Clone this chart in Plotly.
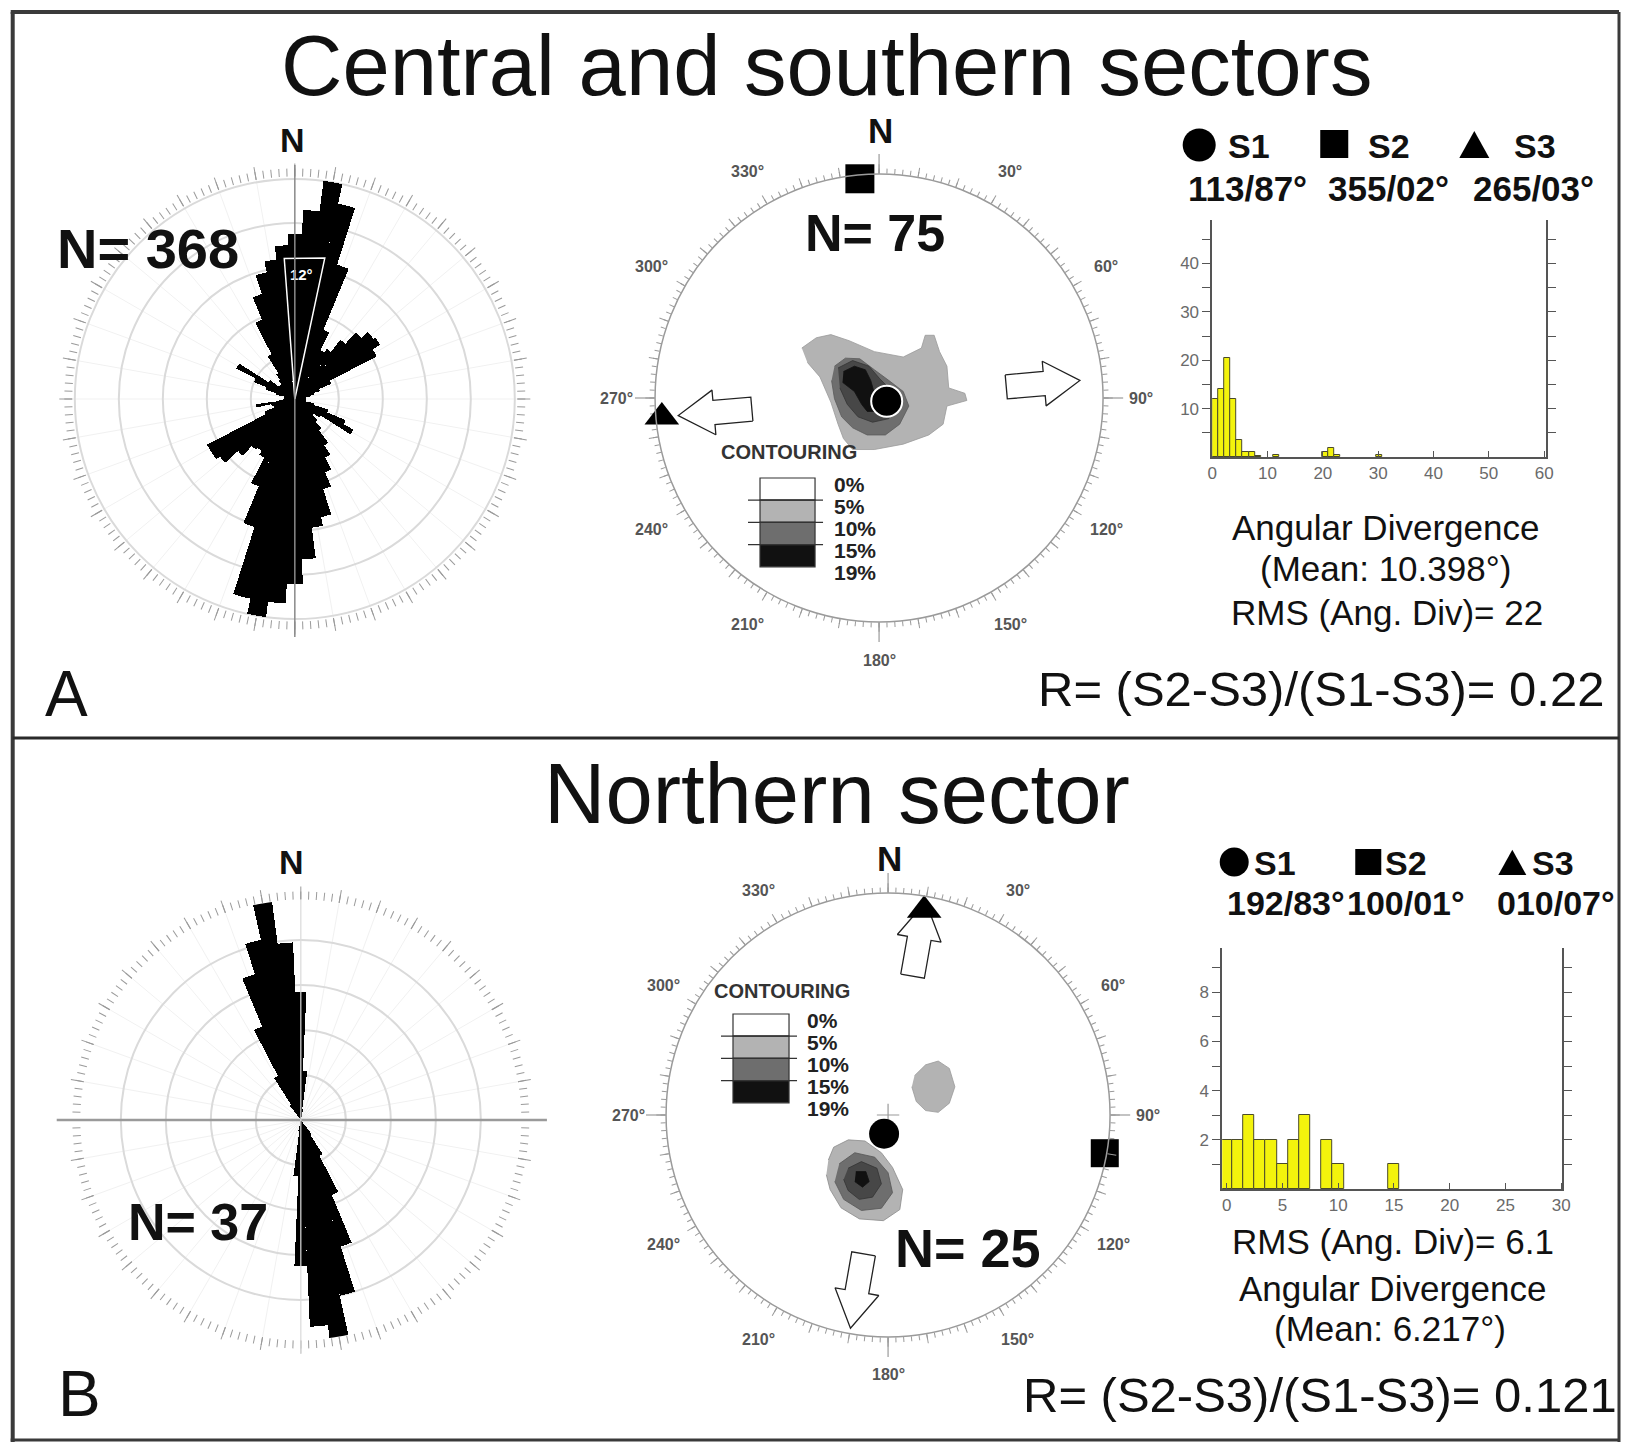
import numpy as np
import plotly.graph_objects as go

W, H = 1627, 1442
FONT = "Liberation Sans, Arial, Helvetica, sans-serif"

# ---------------- data ----------------
rose_bins = list(range(0, 360, 5))
# panel A rose (relative frequency, %)
rose_a_pct = [7.5, 8.6, 10.0, 9.1, 6.4, 3.4, 2.5, 2.7, 3.4, 4.1, 4.5, 4.6, 4.2, 1.8, 1.2, 0.9, 0.7, 0.5,
              0.5, 0.5, 0.5, 0.9, 1.6, 2.5, 3.0, 1.4, 1.1, 1.4, 1.8, 2.5, 3.0, 3.6, 4.3, 5.5, 5.9, 7.3,
              8.4, 9.3, 10.0, 9.3, 6.1, 4.3, 3.0, 2.8, 2.9, 3.5, 4.3, 4.5, 4.5, 1.5, 1.0, 1.1, 1.8, 0.7,
              0.5, 0.5, 0.5, 0.9, 1.4, 2.0, 3.0, 1.4, 0.9, 0.9, 1.1, 1.4, 2.3, 3.9, 5.0, 5.9, 6.4, 7.0]
# panel B rose
rose_b_pct = [5.7, 2.2, 0.5, 0, 0, 0, 0, 0, 0, 0, 0, 0, 0, 0, 0, 0, 0, 0,
              0, 0, 0, 0, 0, 0, 0, 0, 0, 0, 0, 0.8, 1.8, 3.6, 5.9, 8.0, 9.8, 9.2,
              6.5, 2.5, 0.5, 0, 0, 0, 0, 0, 0, 0, 0, 0, 0, 0, 0, 0, 0, 0,
              0, 0, 0, 0, 0, 0, 0, 0, 0, 0, 0, 0.8, 2.2, 4.5, 6.8, 8.2, 9.8, 7.9]
rose_sector = [-4.3, 12.0]   # the 12 deg reference sector
rose_sector_r = [6.4, 6.55]

# principal stresses (trend / plunge)
stress_names = ["S1", "S2", "S3"]
trend_a = [113, 355, 265]
plunge_a = [87, 2, 3]
trend_b = [192, 100, 10]
plunge_b = [83, 1, 7]
stress_text_a = ["113/87°", "355/02°", "265/03°"]
stress_text_b = ["192/83°", "100/01°", "010/07°"]

# density contours (projected coordinates, east / north, unit circle)
ca5_x = [-0.345, -0.280, -0.215, -0.134, -0.021, 0.108, 0.189, 0.206, 0.246, 0.270, 0.303, 0.311, 0.383,
         0.392, 0.303, 0.286, 0.222, 0.108, -0.021, -0.118, -0.159, -0.183, -0.215, -0.264, -0.320]
ca5_y = [0.223, 0.269, 0.283, 0.256, 0.207, 0.183, 0.223, 0.280, 0.280, 0.207, 0.142, 0.045, 0.021,
         -0.011, -0.036, -0.117, -0.165, -0.206, -0.230, -0.230, -0.181, -0.117, -0.019, 0.094, 0.159]
ca10_x = [-0.199, -0.150, -0.086, -0.021, 0.044, 0.108, 0.133, 0.092, 0.028, -0.053, -0.118, -0.167, -0.199, -0.212]
ca10_y = [0.142, 0.178, 0.175, 0.126, 0.078, 0.029, -0.036, -0.117, -0.165, -0.165, -0.133, -0.084, -0.003, 0.078]
ca15_x = [-0.183, -0.118, -0.045, 0.003, 0.060, 0.076, 0.044, -0.029, -0.094, -0.142, -0.175]
ca15_y = [0.134, 0.167, 0.142, 0.086, 0.029, -0.036, -0.092, -0.108, -0.084, -0.028, 0.045]
ca19_x = [-0.159, -0.110, -0.061, -0.037, -0.021, 0.011, 0.003, -0.053, -0.078, -0.110, -0.163]
ca19_y = [0.118, 0.142, 0.126, 0.078, 0.021, -0.019, -0.060, -0.060, -0.028, 0.029, 0.070]

cb5a_x = [0.119, 0.169, 0.226, 0.276, 0.301, 0.276, 0.226, 0.169, 0.127, 0.107]
cb5a_y = [0.177, 0.226, 0.243, 0.210, 0.127, 0.053, 0.012, 0.020, 0.061, 0.127]
cb5b_x = [-0.269, -0.245, -0.179, -0.104, -0.030, 0.020, 0.066, 0.053, -0.021, -0.129, -0.212, -0.261, -0.278]
cb5b_y = [-0.203, -0.145, -0.112, -0.117, -0.170, -0.236, -0.336, -0.426, -0.476, -0.468, -0.418, -0.336, -0.269]
cb10_x = [-0.22, -0.15, -0.06, 0.00, 0.02, -0.03, -0.12, -0.20, -0.24]
cb10_y = [-0.22, -0.17, -0.19, -0.26, -0.35, -0.42, -0.43, -0.38, -0.30]
cb15_x = [-0.18, -0.12, -0.05, -0.03, -0.07, -0.13, -0.18, -0.20]
cb15_y = [-0.24, -0.21, -0.24, -0.31, -0.37, -0.38, -0.34, -0.29]
cb19_x = [-0.145, -0.10, -0.085, -0.115, -0.15]
cb19_y = [-0.255, -0.255, -0.30, -0.325, -0.30]

# angular divergence histograms
hist_a_x = [0.55, 1.65, 2.75, 3.85, 4.95, 6.05, 7.15, 8.25, 11.55, 20.35, 21.45, 22.55, 30.25]
hist_a_n = [12, 14, 20.5, 12, 3.5, 1, 1, 0.3, 0.4, 1, 1.8, 0.5, 0.4]
hist_b_x = [0, 1, 2, 3, 4, 5, 6, 7, 9, 10, 15]
hist_b_n = [2, 2, 3, 2, 2, 1, 2, 3, 2, 1, 1]

contour_levels = ["0%", "5%", "10%", "15%", "19%"]
stereo_labels = [30, 60, 90, 120, 150, 180, 210, 240, 270, 300, 330]

# ---------------- geometry / style ----------------
ROSE_A = dict(cx=296, cy=399, R=222, unit=22.0)
ROSE_B = dict(cx=302, cy=1120, R=220, unit=22.5)
ST_A = dict(cx=880, cy=398, R=224)
ST_B = dict(cx=889, cy=1115, R=222)
LIGHT, MID, DARK, BLACK = "#b3b3b3", "#6e6e6e", "#474747", "#111111"
TICKC = "#9a9a9a"
# small horizontal calibration of the page placement
XS, XO = 0.9916, 6.3


def X(px):
    return min(max((px - XO) / XS, 0), W) / W


def Y(py):
    return 1 - py / H


def dom(g):
    return dict(x=[X(g["cx"] - g["R"]), X(g["cx"] + g["R"])],
                y=[Y(g["cy"] + g["R"]), Y(g["cy"] - g["R"])])


def proj_r(plunge):
    return np.sqrt(2.0) * np.sin(np.radians(90.0 - np.asarray(plunge, float)) / 2.0)


def xy_to_polar(xs, ys):
    xs = np.asarray(xs, float)
    ys = np.asarray(ys, float)
    return np.hypot(xs, ys), np.degrees(np.arctan2(xs, ys)) % 360


def arrow(trend, r0, r1, shaft_hw=0.054, head_hw=0.10, head_len=0.16):
    t = np.radians(trend)
    d = np.array([np.sin(t), np.cos(t)])
    p = np.array([np.cos(t), -np.sin(t)])
    s = [r0, r1 - head_len, r1 - head_len, r1, r1 - head_len, r1 - head_len, r0, r0]
    w = [-shaft_hw, -shaft_hw, -head_hw, 0, head_hw, shaft_hw, shaft_hw, -shaft_hw]
    pts = np.outer(s, d) + np.outer(w, p)
    return xy_to_polar(pts[:, 0], pts[:, 1])


def tick_polar(g, vals, ticklen, showline=False, bg="rgba(0,0,0,0)"):
    return dict(domain=dom(g), bgcolor=bg,
                radialaxis=dict(visible=False, range=[0, 1]),
                angularaxis=dict(rotation=90, direction="clockwise", tickmode="array", tickvals=vals,
                                 ticks="outside", ticklen=ticklen, tickcolor=TICKC, tickwidth=1,
                                 showticklabels=False, showgrid=False, showline=showline,
                                 linecolor="#9a9a9a", linewidth=1.5))


def rose_polar(g):
    return dict(domain=dom(g), bgcolor="white",
                radialaxis=dict(range=[0, g["R"] / g["unit"]], tickmode="linear", tick0=0, dtick=2,
                                showgrid=True, gridcolor="#dadada", gridwidth=1.5, showticklabels=False,
                                showline=False, ticks=""),
                angularaxis=dict(rotation=90, direction="clockwise", tickmode="array",
                                 tickvals=list(range(0, 360, 10)), ticks="outside", ticklen=13,
                                 tickcolor=TICKC, tickwidth=1, showticklabels=False, showgrid=True,
                                 gridcolor="#f1f1f1", showline=False))


fig = go.Figure()


def dummy(sub):
    fig.add_trace(go.Scatterpolar(r=[0], theta=[0], mode="markers", marker=dict(opacity=0),
                                  hoverinfo="skip", subplot=sub))


def poly(xs, ys, color, sub, line=None):
    r, th = xy_to_polar(xs, ys)
    fig.add_trace(go.Scatterpolar(r=r, theta=th, mode="lines", fill="toself", fillcolor=color,
                                  line=dict(color=line or color, width=0.8), hoverinfo="skip",
                                  subplot=sub))


syms = ["circle", "square", "triangle-up"]

# ---- rose A (polar = fine ticks, polar2 = data) ----
dummy("polar")
fig.add_trace(go.Barpolar(r=rose_a_pct, theta=rose_bins, width=5,
                          marker=dict(color="black", line=dict(width=0)), subplot="polar2", hoverinfo="skip"))
fig.add_trace(go.Scatterpolar(r=[0, rose_sector_r[0], rose_sector_r[1], 0],
                              theta=[0, rose_sector[0], rose_sector[1], 0], mode="lines",
                              line=dict(color="white", width=1.5), subplot="polar2", hoverinfo="skip"))
fig.add_trace(go.Scatterpolar(r=[5.6], theta=[3], mode="text", text=["<b>12°</b>"],
                              textfont=dict(family=FONT, size=15, color="white"),
                              subplot="polar2", hoverinfo="skip", cliponaxis=False))

# ---- stereonet A (polar3 = fine ticks, polar4 = data) ----
dummy("polar3")
sub = "polar4"
fig.add_trace(go.Scatterpolar(r=[0], theta=[0], mode="markers",
                              marker=dict(symbol="cross-thin", size=16, opacity=1,
                                          line=dict(color="#999", width=1.2)),
                              subplot=sub, hoverinfo="skip"))
poly(ca5_x, ca5_y, LIGHT, sub, "#9a9a9a")
poly(ca10_x, ca10_y, MID, sub, "#5a5a5a")
poly(ca15_x, ca15_y, DARK, sub, "#333")
poly(ca19_x, ca19_y, BLACK, sub)
for tr in (trend_a[2], (trend_a[2] + 180) % 360):
    r, th = arrow(tr, 0.57, 0.90)
    fig.add_trace(go.Scatterpolar(r=r, theta=th, mode="lines", fill="toself", fillcolor="white",
                                  line=dict(color="#222", width=1.3), subplot=sub, hoverinfo="skip"))
fig.add_trace(go.Scatterpolar(r=proj_r(plunge_a), theta=trend_a, mode="markers", cliponaxis=False,
                              marker=dict(symbol=syms, size=[31, 29, 30], color="black", opacity=1,
                                          line=dict(color=["white", "black", "black"], width=[2, 0, 0])),
                              subplot=sub, hoverinfo="skip"))

# ---- rose B (polar5 = fine ticks, polar6 = data) ----
dummy("polar5")
fig.add_trace(go.Barpolar(r=rose_b_pct, theta=rose_bins, width=5,
                          marker=dict(color="black", line=dict(width=0)), subplot="polar6", hoverinfo="skip"))

# ---- stereonet B (polar7 = fine ticks, polar8 = data) ----
dummy("polar7")
sub = "polar8"
fig.add_trace(go.Scatterpolar(r=[0], theta=[0], mode="markers",
                              marker=dict(symbol="cross-thin", size=16, opacity=1,
                                          line=dict(color="#999", width=1.2)),
                              subplot=sub, hoverinfo="skip"))
poly(cb5a_x, cb5a_y, LIGHT, sub, "#9a9a9a")
poly(cb5b_x, cb5b_y, LIGHT, sub, "#8a8a8a")
poly(cb10_x, cb10_y, MID, sub, "#555")
poly(cb15_x, cb15_y, DARK, sub, "#333")
poly(cb19_x, cb19_y, BLACK, sub)
for tr in (trend_b[2], (trend_b[2] + 180) % 360):
    r, th = arrow(tr, 0.635, 0.975, head_len=0.167)
    fig.add_trace(go.Scatterpolar(r=r, theta=th, mode="lines", fill="toself", fillcolor="white",
                                  line=dict(color="#222", width=1.3), subplot=sub, hoverinfo="skip"))
fig.add_trace(go.Scatterpolar(r=proj_r(plunge_b), theta=trend_b, mode="markers", cliponaxis=False,
                              marker=dict(symbol=syms, size=[30, 28, 30], color="black", opacity=1,
                                          line=dict(color="black", width=0)),
                              subplot=sub, hoverinfo="skip"))

# ---- histograms ----
BAR = dict(color="#f3f30c", line=dict(color="#4a4a2a", width=1))
fig.add_trace(go.Bar(x=hist_a_x, y=hist_a_n, width=1.1, marker=BAR, xaxis="x", yaxis="y", hoverinfo="skip"))
fig.add_trace(go.Bar(x=hist_b_x, y=hist_b_n, width=1.0, marker=BAR, xaxis="x2", yaxis="y2", hoverinfo="skip"))


def hx(p0, p1, rng, vals, anchor):
    return dict(domain=[X(p0), X(p1)], range=rng, tickmode="array", tickvals=vals, ticks="inside",
                ticklen=6, tickcolor="#555", showline=True, linecolor="#555", linewidth=1.5,
                showgrid=False, zeroline=False, anchor=anchor,
                tickfont=dict(family=FONT, size=17, color="#6a6a6a"))


def hy(top, bot, rng, vals, labels, anchor):
    return dict(domain=[Y(bot), Y(top)], range=rng, tickmode="array", tickvals=vals,
                ticktext=labels, ticks="outside", ticklen=8, tickcolor="#555", showline=True,
                linecolor="#555", linewidth=1.5, mirror="ticks", showgrid=False, zeroline=False,
                anchor=anchor, tickfont=dict(family=FONT, size=17, color="#6a6a6a"))


ya_vals = list(range(5, 50, 5))
ya_txt = [str(v) if v % 10 == 0 else "" for v in ya_vals]
yb_vals = list(range(1, 10))
yb_txt = [str(v) if v % 2 == 0 else "" for v in yb_vals]

# ---------------- annotations ----------------
anns = []


def ann(text, x, y, size, bold=False, color="#111", xanchor="center", yanchor="middle"):
    anns.append(dict(text=f"<b>{text}</b>" if bold else text, x=X(x), y=Y(y), xref="paper",
                     yref="paper", showarrow=False, xanchor=xanchor, yanchor=yanchor,
                     font=dict(family=FONT, size=size, color=color)))


ann("Central and southern sectors", 827, 66, 85)
ann("Northern sector", 838, 793, 85)
ann("A", 68, 694, 64)
ann("B", 81, 1394, 64)
ann("R= (S2-S3)/(S1-S3)= 0.22", 1607, 689, 49, xanchor="right")
ann("R= (S2-S3)/(S1-S3)= 0.121", 1622, 1395, 49, xanchor="right")

ann("N", 294, 140, 34, bold=True)
ann("N= 368", 149, 248, 56, bold=True)
ann("N", 293, 862, 34, bold=True)
ann("N= 37", 199, 1222, 52, bold=True)

ann("N", 881, 131, 35, bold=True)
ann("N= 75", 876, 233, 52, bold=True)
ann("N", 890, 859, 35, bold=True)
ann("N= 25", 969, 1248, 54, bold=True)

for g in (ST_A, ST_B):
    for a in stereo_labels:
        rr = 1.17 * g["R"]
        ann(f"{a}°", g["cx"] + rr * np.sin(np.radians(a)), g["cy"] - rr * np.cos(np.radians(a)), 16,
            bold=True, color="#555")

shapes = []


def pline(x0, y0, x1, y1, color, width):
    shapes.append(dict(type="line", xref="paper", yref="paper", x0=X(x0), x1=X(x1),
                       y0=Y(y0), y1=Y(y1), line=dict(color=color, width=width)))


# cardinal long ticks on the stereonets
for g in (ST_A, ST_B):
    for a in (0, 90, 180, 270):
        s, c = np.sin(np.radians(a)), np.cos(np.radians(a))
        pline(g["cx"] + g["R"] * s, g["cy"] - g["R"] * c,
              g["cx"] + (g["R"] + 20) * s, g["cy"] - (g["R"] + 20) * c, TICKC, 1.2)


def contour_legend(x0, x1, ytop, band, label_x, title_xy):
    ann("CONTOURING", title_xy[0], title_xy[1], 20, bold=True, color="#333")
    fills = ["white", LIGHT, MID, BLACK]
    for i, c in enumerate(fills):
        shapes.append(dict(type="rect", xref="paper", yref="paper", x0=X(x0), x1=X(x1),
                           y0=Y(ytop + band * (i + 1)), y1=Y(ytop + band * i),
                           fillcolor=c, line=dict(color="#333", width=1.2)))
    for i in range(1, 4):
        yy = ytop + band * i
        pline(x0 - 12, yy, x1 + 8, yy, "#333", 1.2)
    for i, lab in enumerate(contour_levels):
        ann(lab, label_x, ytop + band * i + 6, 21, bold=True, color="#222", xanchor="left")


contour_legend(761, 816, 478, 22.2, 833, (790, 452))
contour_legend(734, 790, 1014, 22.2, 806, (783, 991))


def stress_legend(circ, sq, tri, label_x, row1_y):
    cx, cy, d = circ
    shapes.append(dict(type="circle", xref="paper", yref="paper", x0=X(cx - d / 2), x1=X(cx + d / 2),
                       y0=Y(cy + d / 2), y1=Y(cy - d / 2), fillcolor="black",
                       line=dict(color="black", width=0)))
    cx, cy, d = sq
    shapes.append(dict(type="rect", xref="paper", yref="paper", x0=X(cx - d / 2), x1=X(cx + d / 2),
                       y0=Y(cy + d / 2), y1=Y(cy - d / 2), fillcolor="black",
                       line=dict(color="black", width=0)))
    cx, cy, d = tri
    path = (f"M {X(cx - d / 2)},{Y(cy + d * 0.43)} L {X(cx + d / 2)},{Y(cy + d * 0.43)} "
            f"L {X(cx)},{Y(cy - d * 0.47)} Z")
    shapes.append(dict(type="path", xref="paper", yref="paper", path=path, fillcolor="black",
                       line=dict(color="black", width=0)))
    for name, lx in zip(stress_names, label_x):
        ann(name, lx, row1_y, 34, bold=True, xanchor="left")


stress_legend((1200, 145, 33), (1335, 144, 28), (1475, 145, 30), [1227, 1367, 1513], 146)
for t, x in zip(stress_text_a, [1248, 1389, 1534]):
    ann(t, x, 189, 35, bold=True)
stress_legend((1235, 862, 29), (1369, 862, 26), (1513, 863, 28), [1253, 1384, 1531], 863)
for t, x in zip(stress_text_b, [1287, 1407, 1557]):
    ann(t, x, 903, 34, bold=True)

ann("Angular Divergence", 1386, 527, 35)
ann("(Mean: 10.398°)", 1386, 568, 35)
ann("RMS (Ang. Div)= 22", 1388, 612, 35)
ann("RMS (Ang. Div)= 6.1", 1394, 1241, 35)
ann("Angular Divergence", 1393, 1288, 35)
ann("(Mean: 6.217°)", 1391, 1328, 35)

# rose reference lines
pline(ROSE_A["cx"], ROSE_A["cy"] - ROSE_A["R"] - 12, ROSE_A["cx"], ROSE_A["cy"] + ROSE_A["R"] + 16, "#8a8a8a", 1.5)
pline(ROSE_B["cx"] - ROSE_B["R"] - 24, ROSE_B["cy"], ROSE_B["cx"] + ROSE_B["R"] + 26, ROSE_B["cy"], "#9a9a9a", 2.5)
pline(ROSE_B["cx"], ROSE_B["cy"] - ROSE_B["R"], ROSE_B["cx"], ROSE_B["cy"] + ROSE_B["R"] + 14, "#dddddd", 1.2)

# frame
pline(14, 12, 14, 1442, "#3a3a3a", 4)
pline(12, 12, 1627, 12, "#3a3a3a", 4)
pline(1624, 12, 1624, 1442, "#3a3a3a", 3)
pline(1624, 1440, 12, 1440, "#3a3a3a", 3)
pline(14, 738, 1627, 738, "#2a2a2a", 3)

fig.update_layout(
    width=W, height=H, autosize=False, margin=dict(l=0, r=0, t=0, b=0), paper_bgcolor="white",
    plot_bgcolor="white", showlegend=False, bargap=0,
    polar=tick_polar(ROSE_A, list(range(0, 360, 2)), 8),
    polar2=rose_polar(ROSE_A),
    polar3=tick_polar(ST_A, list(range(0, 360, 2)), 5),
    polar4=tick_polar(ST_A, list(range(0, 360, 10)), 9, showline=True, bg="white"),
    polar5=tick_polar(ROSE_B, list(range(0, 360, 2)), 8),
    polar6=rose_polar(ROSE_B),
    polar7=tick_polar(ST_B, list(range(0, 360, 2)), 5),
    polar8=tick_polar(ST_B, list(range(0, 360, 10)), 9, showline=True, bg="white"),
    xaxis=hx(1213, 1547, [0, 60.4], list(range(0, 61, 10)), "y"),
    yaxis=hy(220, 457, [0, 49], ya_vals, ya_txt, "x"),
    xaxis2=hx(1223, 1563, [-0.4, 30.1], list(range(0, 31, 5)), "y2"),
    yaxis2=hy(948, 1189, [0, 9.8], yb_vals, yb_txt, "x2"),
    annotations=anns, shapes=shapes,
)

fig.write_html("out.html", config={"displayModeBar": False, "responsive": False},
               post_script="document.body.style.margin='0px';document.body.style.overflow='hidden';")
